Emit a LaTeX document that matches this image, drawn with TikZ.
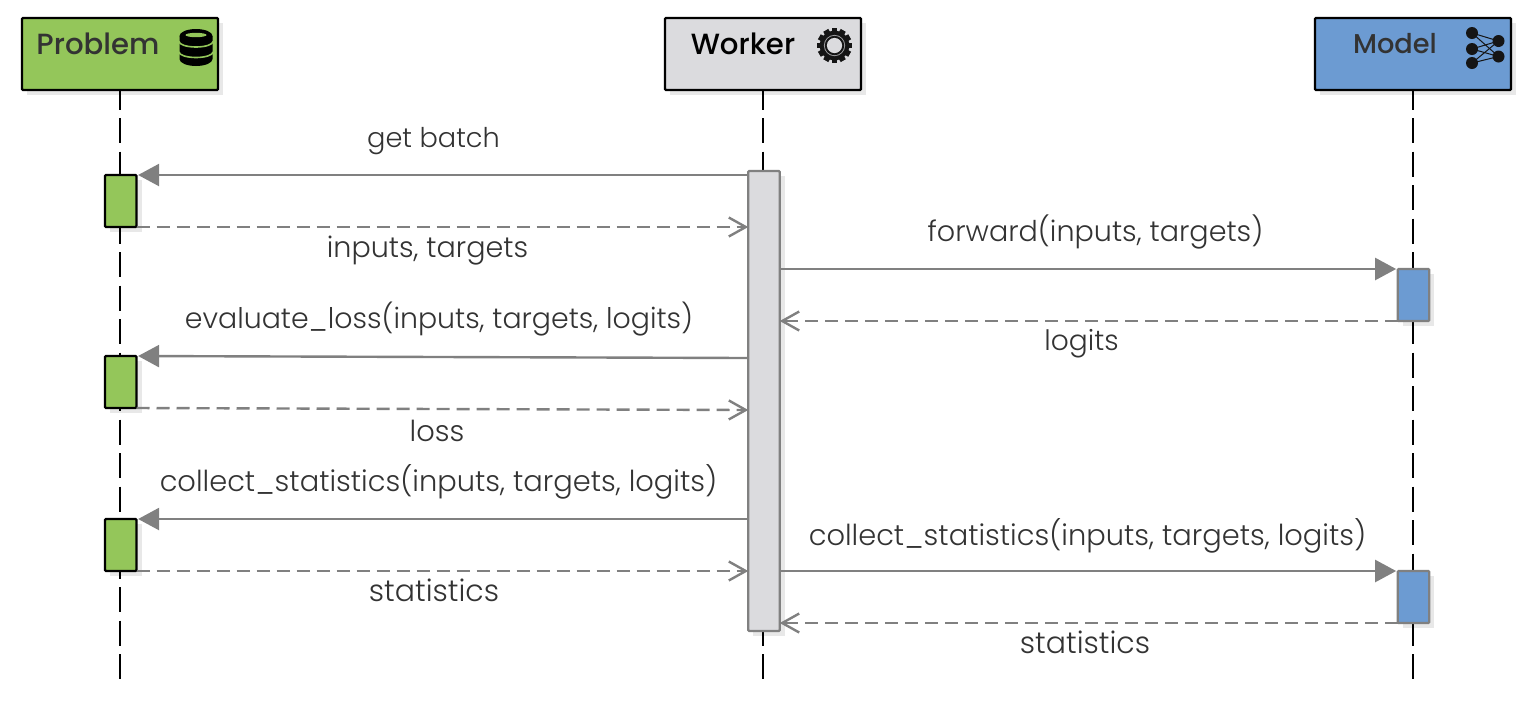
\documentclass[tikz,border=0pt]{standalone}
\usepackage{fontspec}
\setmainfont{Poppins}[UprightFont={* Light},BoldFont={* Medium}]
\usetikzlibrary{arrows.meta,calc}
\definecolor{pgreen}{HTML}{94C65A}
\definecolor{wgrey}{HTML}{DBDBDE}
\definecolor{mblue}{HTML}{6C9BD2}
\definecolor{softshadow}{HTML}{E8E8E8}
\definecolor{ink}{HTML}{333333}
\definecolor{msg}{HTML}{808080}
\definecolor{iconk}{HTML}{151515}
\tikzset{
  headbox/.style={draw=black,line width=1.1pt,minimum width=98pt,minimum height=36pt,inner sep=0pt,outer sep=0pt,rounded corners=0.5pt},
  barbox/.style={line width=1.1pt,minimum width=15.75pt,inner sep=0pt,outer sep=0pt,rounded corners=0.5pt},
  lifeline/.style={draw=black,line width=1.1pt,dash pattern=on 12.5pt off 4.25pt,dash phase=2.75pt},
  call/.style={draw=msg,line width=1.2pt,-{Triangle[length=10.5pt,width=11pt,fill=msg]},shorten >=0.8pt},
  reply/.style={draw=msg,line width=1.2pt,dash pattern=on 6.5pt off 3.5pt,-{Straight Barb[length=8.5pt,width=9.5pt,line width=1.2pt]}},
  lab/.style={text=ink,font=\fontsize{14.45}{16}\selectfont,inner sep=0pt,anchor=base},
  headlab/.style={font=\fontsize{14.6}{16}\bfseries,inner sep=0pt},
}
\begin{document}
\begin{tikzpicture}[x=0.5pt,y=-0.5pt]
\useasboundingbox (0,0) rectangle (1536,709);
% shadows
\foreach \xa/\ya/\xb/\yb in {22/18/218/90,665/18/861/90,1315/18/1511/90,105/175/137/227,105/356/137/408,105/519/137/571,748/171/780/631,1398/269/1429/321,1398/571/1429/623}
  \fill[softshadow] (\xa+5,\ya+5) rectangle (\xb+5,\yb+5);
% headers
\node[headbox,fill=pgreen] (problem) at (120,54) {};
\node[headbox,fill=wgrey] (worker) at (763,54) {};
\node[headbox,fill=mblue] (model) at (1413,54) {};
\node[headlab,text=ink] (problemlab) at (98,44) {Problem};
\node[headlab,text=black] (workerlab) at (743,44) {Worker};
\node[headlab,text=ink,font=\fontsize{13.6}{16}\bfseries] (modellab) at (1395,44) {Model};
% lifeline ends
\coordinate (pend) at (120,680);
\coordinate (wend) at (763,680);
\coordinate (mend) at (1413,680);
\draw[lifeline] (problem.south) -- (pend);
\draw[lifeline] (worker.south) -- (wend);
\draw[lifeline] (model.south) -- (mend);
% activations
\node[barbox,draw=black,fill=pgreen,minimum height=26pt] (pa) at (120.75,201) {};
\node[barbox,draw=black,fill=pgreen,minimum height=26pt] (pb) at (120.75,382) {};
\node[barbox,draw=black,fill=pgreen,minimum height=26pt] (pc) at (120.75,545) {};
\node[barbox,draw=msg,fill=wgrey,minimum height=230pt] (wa) at (764,401) {};
\node[barbox,draw=msg,fill=mblue,minimum height=26pt] (ma) at (1413.5,295) {};
\node[barbox,draw=msg,fill=mblue,minimum height=26pt] (mb) at (1413.5,597) {};
% messages
\draw[call] (wa.west |- pa.north) -- (pa.north east);
\draw[reply] (pa.south east) -- (wa.west |- pa.south);
\draw[call] (wa.east |- ma.north) -- (ma.north west);
\draw[reply] (ma.south west) -- (wa.east |- ma.south);
\draw[call] ($(wa.west |- pb.north)+(0,2)$) -- (pb.north east);
\draw[reply] (pb.south east) -- ($(wa.west |- pb.south)+(0,2)$);
\draw[call] (wa.west |- pc.north) -- (pc.north east);
\draw[reply] (pc.south east) -- (wa.west |- pc.south);
\draw[call] (wa.east |- mb.north) -- (mb.north west);
\draw[reply] (mb.south west) -- (wa.east |- mb.south);
% labels
\node[lab,font=\fontsize{13.6}{16}\selectfont] (l1) at (433.5,147) {get batch};
\node[lab,font=\fontsize{14.3}{16}\selectfont] (l2) at (427.5,257) {inputs, targets};
\node[lab,font=\fontsize{14.3}{16}\selectfont] (l3) at (1095.5,241) {forward(inputs, targets)};
\node[lab,font=\fontsize{14.05}{16}\selectfont] (l4) at (1081.5,350) {logits};
\node[lab,font=\fontsize{14.2}{16}\selectfont] (l5) at (439,328) {evaluate\_loss(inputs, targets, logits)};
\node[lab] (l6) at (437,441) {loss};
\node[lab] (l7) at (438.5,491) {collect\_statistics(inputs, targets, logits)};
\node[lab,font=\fontsize{15}{16}\selectfont] (l8) at (434,601) {statistics};
\node[lab] (l9) at (1087.5,545) {collect\_statistics(inputs, targets, logits)};
\node[lab,font=\fontsize{15}{16}\selectfont] (l10) at (1085,653) {statistics};
% database icon
\fill[black] (179.5,36) arc[start angle=180,end angle=0,x radius=16.5,y radius=7.5]
  arc[start angle=0,end angle=180,x radius=16.5,y radius=7.5] -- cycle;
\fill[black] (179.5,36) arc[start angle=180,end angle=360,x radius=16.5,y radius=7]
  -- (212.5,59) arc[start angle=0,end angle=180,x radius=16.5,y radius=7] -- cycle;
\fill[pgreen] (196,35) ellipse[x radius=10.5,y radius=2.2];
\draw[pgreen,line width=0.8pt] (179,41.5) arc[start angle=180,end angle=0,x radius=17,y radius=5.5];
\draw[pgreen,line width=0.8pt] (179,52) arc[start angle=180,end angle=0,x radius=17,y radius=5.5];
% gear icon
\begin{scope}[shift={(834.5,45.5)}]
  \fill[iconk] (0,0) circle[radius=14.8];
  \foreach \a in {0,30,150}
    \fill[iconk,rotate=\a] (-17.5,-2.9) rectangle (17.5,2.9);
  \foreach \a in {60,90,120}
    \fill[iconk,rotate=\a] (-17.5,-2.9) rectangle (17.5,2.9);
  \fill[wgrey!75!black] (0,0) circle[radius=10.6];
  \fill[iconk] (0,0) circle[radius=9.7];
  \fill[wgrey] (0,0) circle[radius=7.6];
\end{scope}
% network icon
\foreach \ya in {33,49,63}
  \foreach \yb in {41,56.5}
    \draw[iconk,line width=0.5pt] (1472,\ya) -- (1498.5,\yb);
\foreach \cx/\cy in {1472/33,1472/49,1472/63,1498.5/41,1498.5/56.5}
  \fill[iconk] (\cx,\cy) circle[radius=6];
\end{tikzpicture}
\end{document}
